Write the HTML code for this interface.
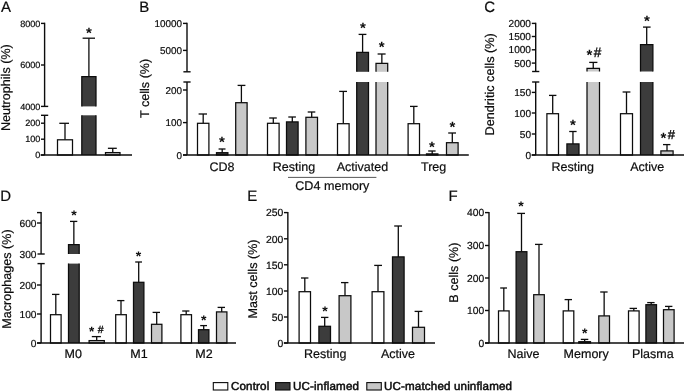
<!DOCTYPE html>
<html lang="en"><head><meta charset="utf-8"><title>Figure</title>
<style>
html,body{margin:0;padding:0;background:#fff;}
svg{display:block;font-family:"Liberation Sans",Arial,Helvetica,sans-serif;text-rendering:geometricPrecision;}
</style></head>
<body>
<svg width="685" height="392" viewBox="0 0 685 392">
<rect width="685" height="392" fill="#fff"/>
<text x="1.10" y="11.80" font-size="15" fill="#0c0c0c" stroke="#0c0c0c" stroke-width="0.2">A</text>
<line x1="44.60" y1="22.70" x2="44.60" y2="106.40" stroke="#0c0c0c" stroke-width="1.4"/>
<line x1="44.60" y1="115.30" x2="44.60" y2="155.00" stroke="#0c0c0c" stroke-width="1.4"/>
<line x1="41.00" y1="23.40" x2="44.60" y2="23.40" stroke="#0c0c0c" stroke-width="1.4"/>
<text x="40.40" y="26.66" font-size="9.1" text-anchor="end" fill="#0c0c0c" stroke="#0c0c0c" stroke-width="0.2">8000</text>
<line x1="41.00" y1="65.00" x2="44.60" y2="65.00" stroke="#0c0c0c" stroke-width="1.4"/>
<text x="40.40" y="68.26" font-size="9.1" text-anchor="end" fill="#0c0c0c" stroke="#0c0c0c" stroke-width="0.2">6000</text>
<line x1="41.00" y1="123.20" x2="44.60" y2="123.20" stroke="#0c0c0c" stroke-width="1.4"/>
<text x="40.40" y="126.46" font-size="9.1" text-anchor="end" fill="#0c0c0c" stroke="#0c0c0c" stroke-width="0.2">200</text>
<line x1="41.00" y1="139.20" x2="44.60" y2="139.20" stroke="#0c0c0c" stroke-width="1.4"/>
<text x="40.40" y="142.46" font-size="9.1" text-anchor="end" fill="#0c0c0c" stroke="#0c0c0c" stroke-width="0.2">100</text>
<line x1="41.00" y1="155.00" x2="44.60" y2="155.00" stroke="#0c0c0c" stroke-width="1.4"/>
<text x="40.40" y="158.26" font-size="9.1" text-anchor="end" fill="#0c0c0c" stroke="#0c0c0c" stroke-width="0.2">0</text>
<text x="40.40" y="109.66" font-size="9.1" text-anchor="end" fill="#0c0c0c" stroke="#0c0c0c" stroke-width="0.2">4000</text>
<line x1="41.00" y1="106.40" x2="48.20" y2="106.40" stroke="#0c0c0c" stroke-width="1.4"/>
<line x1="41.00" y1="115.30" x2="48.20" y2="115.30" stroke="#0c0c0c" stroke-width="1.4"/>
<line x1="65.00" y1="123.30" x2="65.00" y2="139.80" stroke="#0c0c0c" stroke-width="1.3"/>
<line x1="59.30" y1="123.30" x2="69.00" y2="123.30" stroke="#0c0c0c" stroke-width="1.3"/>
<rect x="57.50" y="139.80" width="15.00" height="15.20" fill="#ffffff" stroke="#0c0c0c" stroke-width="1.25"/>
<line x1="88.90" y1="38.20" x2="88.90" y2="76.50" stroke="#0c0c0c" stroke-width="1.3"/>
<line x1="82.60" y1="38.20" x2="95.00" y2="38.20" stroke="#0c0c0c" stroke-width="1.3"/>
<rect x="81.80" y="76.50" width="14.20" height="29.90" fill="#3c3c3c"/>
<path d="M81.80 106.40V76.50H96.00V106.40" fill="none" stroke="#0c0c0c" stroke-width="1.25"/>
<rect x="81.80" y="115.30" width="14.20" height="39.70" fill="#3c3c3c"/>
<path d="M81.80 115.30V155.00M96.00 115.30V155.00" fill="none" stroke="#0c0c0c" stroke-width="1.25"/>
<line x1="112.75" y1="148.30" x2="112.75" y2="152.60" stroke="#0c0c0c" stroke-width="1.3"/>
<line x1="107.90" y1="148.30" x2="116.80" y2="148.30" stroke="#0c0c0c" stroke-width="1.3"/>
<rect x="105.50" y="152.60" width="14.50" height="2.40" fill="#c8c8c8" stroke="#0c0c0c" stroke-width="1.25"/>
<line x1="40.60" y1="155.00" x2="132.00" y2="155.00" stroke="#0c0c0c" stroke-width="1.4"/>
<text x="89.00" y="37.58" font-size="15" text-anchor="middle" font-weight="bold" fill="#0c0c0c">*</text>
<text x="10.40" y="87.60" font-size="12.6" text-anchor="middle" transform="rotate(-90 10.40 87.60)" fill="#0c0c0c" stroke="#0c0c0c" stroke-width="0.2">Neutrophils (%)</text>
<text x="139.30" y="11.80" font-size="15" fill="#0c0c0c" stroke="#0c0c0c" stroke-width="0.2">B</text>
<line x1="187.00" y1="22.70" x2="187.00" y2="71.80" stroke="#0c0c0c" stroke-width="1.4"/>
<line x1="187.00" y1="82.00" x2="187.00" y2="155.00" stroke="#0c0c0c" stroke-width="1.4"/>
<line x1="183.00" y1="23.40" x2="187.00" y2="23.40" stroke="#0c0c0c" stroke-width="1.4"/>
<text x="182.00" y="26.94" font-size="9.9" text-anchor="end" fill="#0c0c0c" stroke="#0c0c0c" stroke-width="0.2">10000</text>
<line x1="183.00" y1="50.40" x2="187.00" y2="50.40" stroke="#0c0c0c" stroke-width="1.4"/>
<text x="182.00" y="53.94" font-size="9.9" text-anchor="end" fill="#0c0c0c" stroke="#0c0c0c" stroke-width="0.2">5000</text>
<line x1="183.00" y1="90.00" x2="187.00" y2="90.00" stroke="#0c0c0c" stroke-width="1.4"/>
<text x="182.00" y="93.54" font-size="9.9" text-anchor="end" fill="#0c0c0c" stroke="#0c0c0c" stroke-width="0.2">200</text>
<line x1="183.00" y1="122.60" x2="187.00" y2="122.60" stroke="#0c0c0c" stroke-width="1.4"/>
<text x="182.00" y="126.14" font-size="9.9" text-anchor="end" fill="#0c0c0c" stroke="#0c0c0c" stroke-width="0.2">100</text>
<line x1="183.00" y1="155.00" x2="187.00" y2="155.00" stroke="#0c0c0c" stroke-width="1.4"/>
<text x="182.00" y="158.54" font-size="9.9" text-anchor="end" fill="#0c0c0c" stroke="#0c0c0c" stroke-width="0.2">0</text>
<line x1="183.40" y1="71.80" x2="190.60" y2="71.80" stroke="#0c0c0c" stroke-width="1.4"/>
<line x1="183.40" y1="82.00" x2="190.60" y2="82.00" stroke="#0c0c0c" stroke-width="1.4"/>
<line x1="203.20" y1="114.00" x2="203.20" y2="123.30" stroke="#0c0c0c" stroke-width="1.3"/>
<line x1="198.60" y1="114.00" x2="207.00" y2="114.00" stroke="#0c0c0c" stroke-width="1.3"/>
<rect x="197.50" y="123.30" width="11.40" height="31.70" fill="#ffffff" stroke="#0c0c0c" stroke-width="1.25"/>
<line x1="222.20" y1="149.00" x2="222.20" y2="152.70" stroke="#0c0c0c" stroke-width="1.3"/>
<line x1="218.60" y1="149.00" x2="225.50" y2="149.00" stroke="#0c0c0c" stroke-width="1.3"/>
<rect x="216.50" y="152.70" width="11.40" height="2.30" fill="#3c3c3c" stroke="#0c0c0c" stroke-width="1.25"/>
<line x1="241.40" y1="85.40" x2="241.40" y2="102.70" stroke="#0c0c0c" stroke-width="1.3"/>
<line x1="237.60" y1="85.40" x2="245.40" y2="85.40" stroke="#0c0c0c" stroke-width="1.3"/>
<rect x="235.70" y="102.70" width="11.40" height="52.30" fill="#c8c8c8" stroke="#0c0c0c" stroke-width="1.25"/>
<line x1="273.30" y1="118.00" x2="273.30" y2="123.30" stroke="#0c0c0c" stroke-width="1.3"/>
<line x1="269.20" y1="118.00" x2="276.80" y2="118.00" stroke="#0c0c0c" stroke-width="1.3"/>
<rect x="267.50" y="123.30" width="11.60" height="31.70" fill="#ffffff" stroke="#0c0c0c" stroke-width="1.25"/>
<line x1="292.30" y1="117.00" x2="292.30" y2="121.90" stroke="#0c0c0c" stroke-width="1.3"/>
<line x1="288.30" y1="117.00" x2="295.90" y2="117.00" stroke="#0c0c0c" stroke-width="1.3"/>
<rect x="286.50" y="121.90" width="11.60" height="33.10" fill="#3c3c3c" stroke="#0c0c0c" stroke-width="1.25"/>
<line x1="311.70" y1="112.00" x2="311.70" y2="117.30" stroke="#0c0c0c" stroke-width="1.3"/>
<line x1="307.70" y1="112.00" x2="315.30" y2="112.00" stroke="#0c0c0c" stroke-width="1.3"/>
<rect x="305.90" y="117.30" width="11.60" height="37.70" fill="#c8c8c8" stroke="#0c0c0c" stroke-width="1.25"/>
<line x1="343.30" y1="91.40" x2="343.30" y2="123.70" stroke="#0c0c0c" stroke-width="1.3"/>
<line x1="339.20" y1="91.40" x2="347.00" y2="91.40" stroke="#0c0c0c" stroke-width="1.3"/>
<rect x="337.50" y="123.70" width="11.60" height="31.30" fill="#ffffff" stroke="#0c0c0c" stroke-width="1.25"/>
<line x1="362.60" y1="34.40" x2="362.60" y2="52.30" stroke="#0c0c0c" stroke-width="1.3"/>
<line x1="358.60" y1="34.40" x2="366.40" y2="34.40" stroke="#0c0c0c" stroke-width="1.3"/>
<rect x="356.70" y="52.30" width="11.80" height="19.50" fill="#3c3c3c"/>
<path d="M356.70 71.80V52.30H368.50V71.80" fill="none" stroke="#0c0c0c" stroke-width="1.25"/>
<rect x="356.70" y="82.00" width="11.80" height="73.00" fill="#3c3c3c"/>
<path d="M356.70 82.00V155.00M368.50 82.00V155.00" fill="none" stroke="#0c0c0c" stroke-width="1.25"/>
<line x1="381.85" y1="54.00" x2="381.85" y2="63.30" stroke="#0c0c0c" stroke-width="1.3"/>
<line x1="377.60" y1="54.00" x2="385.60" y2="54.00" stroke="#0c0c0c" stroke-width="1.3"/>
<rect x="376.00" y="63.30" width="11.70" height="8.50" fill="#c8c8c8"/>
<path d="M376.00 71.80V63.30H387.70V71.80" fill="none" stroke="#0c0c0c" stroke-width="1.25"/>
<rect x="376.00" y="82.00" width="11.70" height="73.00" fill="#c8c8c8"/>
<path d="M376.00 82.00V155.00M387.70 82.00V155.00" fill="none" stroke="#0c0c0c" stroke-width="1.25"/>
<line x1="413.80" y1="106.40" x2="413.80" y2="123.70" stroke="#0c0c0c" stroke-width="1.3"/>
<line x1="410.00" y1="106.40" x2="417.60" y2="106.40" stroke="#0c0c0c" stroke-width="1.3"/>
<rect x="408.10" y="123.70" width="11.40" height="31.30" fill="#ffffff" stroke="#0c0c0c" stroke-width="1.25"/>
<line x1="432.20" y1="151.00" x2="432.20" y2="153.90" stroke="#0c0c0c" stroke-width="1.3"/>
<line x1="428.20" y1="151.00" x2="435.60" y2="151.00" stroke="#0c0c0c" stroke-width="1.3"/>
<rect x="426.50" y="153.90" width="11.40" height="1.10" fill="#3c3c3c" stroke="#0c0c0c" stroke-width="1.25"/>
<line x1="452.30" y1="133.00" x2="452.30" y2="142.70" stroke="#0c0c0c" stroke-width="1.3"/>
<line x1="448.20" y1="133.00" x2="456.00" y2="133.00" stroke="#0c0c0c" stroke-width="1.3"/>
<rect x="446.50" y="142.70" width="11.60" height="12.30" fill="#c8c8c8" stroke="#0c0c0c" stroke-width="1.25"/>
<line x1="183.00" y1="155.00" x2="468.80" y2="155.00" stroke="#0c0c0c" stroke-width="1.4"/>
<text x="222.00" y="147.18" font-size="15" text-anchor="middle" font-weight="bold" fill="#0c0c0c">*</text>
<text x="362.90" y="32.67" font-size="15" text-anchor="middle" font-weight="bold" fill="#0c0c0c">*</text>
<text x="381.70" y="52.17" font-size="15" text-anchor="middle" font-weight="bold" fill="#0c0c0c">*</text>
<text x="431.80" y="152.28" font-size="15" text-anchor="middle" font-weight="bold" fill="#0c0c0c">*</text>
<text x="452.50" y="131.57" font-size="15" text-anchor="middle" font-weight="bold" fill="#0c0c0c">*</text>
<text x="222.00" y="171.00" font-size="12.5" text-anchor="middle" fill="#0c0c0c" stroke="#0c0c0c" stroke-width="0.2">CD8</text>
<text x="294.00" y="171.00" font-size="12.5" text-anchor="middle" fill="#0c0c0c" stroke="#0c0c0c" stroke-width="0.2">Resting</text>
<text x="362.50" y="171.00" font-size="12.5" text-anchor="middle" fill="#0c0c0c" stroke="#0c0c0c" stroke-width="0.2">Activated</text>
<text x="433.60" y="171.00" font-size="12.5" text-anchor="middle" fill="#0c0c0c" stroke="#0c0c0c" stroke-width="0.2">Treg</text>
<line x1="288.00" y1="177.40" x2="376.40" y2="177.40" stroke="#444" stroke-width="0.9"/>
<text x="332.30" y="190.00" font-size="12.6" text-anchor="middle" fill="#0c0c0c" stroke="#0c0c0c" stroke-width="0.2">CD4 memory</text>
<text x="149.50" y="88.40" font-size="12.6" text-anchor="middle" transform="rotate(-90 149.50 88.40)" fill="#0c0c0c" stroke="#0c0c0c" stroke-width="0.2">T cells (%)</text>
<text x="484.30" y="11.80" font-size="15" fill="#0c0c0c" stroke="#0c0c0c" stroke-width="0.2">C</text>
<line x1="535.70" y1="22.70" x2="535.70" y2="71.50" stroke="#0c0c0c" stroke-width="1.4"/>
<line x1="535.70" y1="82.00" x2="535.70" y2="155.00" stroke="#0c0c0c" stroke-width="1.4"/>
<line x1="531.80" y1="23.40" x2="535.70" y2="23.40" stroke="#0c0c0c" stroke-width="1.4"/>
<text x="531.00" y="27.02" font-size="10.1" text-anchor="end" fill="#0c0c0c" stroke="#0c0c0c" stroke-width="0.2">2000</text>
<line x1="531.80" y1="36.50" x2="535.70" y2="36.50" stroke="#0c0c0c" stroke-width="1.4"/>
<text x="531.00" y="40.12" font-size="10.1" text-anchor="end" fill="#0c0c0c" stroke="#0c0c0c" stroke-width="0.2">1500</text>
<line x1="531.80" y1="49.80" x2="535.70" y2="49.80" stroke="#0c0c0c" stroke-width="1.4"/>
<text x="531.00" y="53.42" font-size="10.1" text-anchor="end" fill="#0c0c0c" stroke="#0c0c0c" stroke-width="0.2">1000</text>
<line x1="531.80" y1="63.10" x2="535.70" y2="63.10" stroke="#0c0c0c" stroke-width="1.4"/>
<text x="531.00" y="66.72" font-size="10.1" text-anchor="end" fill="#0c0c0c" stroke="#0c0c0c" stroke-width="0.2">500</text>
<line x1="531.80" y1="92.40" x2="535.70" y2="92.40" stroke="#0c0c0c" stroke-width="1.4"/>
<text x="531.00" y="96.02" font-size="10.1" text-anchor="end" fill="#0c0c0c" stroke="#0c0c0c" stroke-width="0.2">150</text>
<line x1="531.80" y1="113.00" x2="535.70" y2="113.00" stroke="#0c0c0c" stroke-width="1.4"/>
<text x="531.00" y="116.62" font-size="10.1" text-anchor="end" fill="#0c0c0c" stroke="#0c0c0c" stroke-width="0.2">100</text>
<line x1="531.80" y1="134.00" x2="535.70" y2="134.00" stroke="#0c0c0c" stroke-width="1.4"/>
<text x="531.00" y="137.62" font-size="10.1" text-anchor="end" fill="#0c0c0c" stroke="#0c0c0c" stroke-width="0.2">50</text>
<line x1="531.80" y1="155.00" x2="535.70" y2="155.00" stroke="#0c0c0c" stroke-width="1.4"/>
<text x="531.00" y="158.62" font-size="10.1" text-anchor="end" fill="#0c0c0c" stroke="#0c0c0c" stroke-width="0.2">0</text>
<line x1="532.10" y1="71.50" x2="539.30" y2="71.50" stroke="#0c0c0c" stroke-width="1.4"/>
<line x1="532.10" y1="82.00" x2="539.30" y2="82.00" stroke="#0c0c0c" stroke-width="1.4"/>
<line x1="552.70" y1="95.40" x2="552.70" y2="113.70" stroke="#0c0c0c" stroke-width="1.3"/>
<line x1="549.00" y1="95.40" x2="556.40" y2="95.40" stroke="#0c0c0c" stroke-width="1.3"/>
<rect x="546.90" y="113.70" width="11.60" height="41.30" fill="#ffffff" stroke="#0c0c0c" stroke-width="1.25"/>
<line x1="572.95" y1="131.50" x2="572.95" y2="143.90" stroke="#0c0c0c" stroke-width="1.3"/>
<line x1="569.20" y1="131.50" x2="576.60" y2="131.50" stroke="#0c0c0c" stroke-width="1.3"/>
<rect x="566.90" y="143.90" width="12.10" height="11.10" fill="#3c3c3c" stroke="#0c0c0c" stroke-width="1.25"/>
<line x1="593.25" y1="62.40" x2="593.25" y2="68.30" stroke="#0c0c0c" stroke-width="1.3"/>
<line x1="589.20" y1="62.40" x2="597.40" y2="62.40" stroke="#0c0c0c" stroke-width="1.3"/>
<rect x="587.00" y="68.30" width="12.50" height="3.20" fill="#c8c8c8"/>
<path d="M587.00 71.50V68.30H599.50V71.50" fill="none" stroke="#0c0c0c" stroke-width="1.25"/>
<rect x="587.00" y="82.00" width="12.50" height="73.00" fill="#c8c8c8"/>
<path d="M587.00 82.00V155.00M599.50 82.00V155.00" fill="none" stroke="#0c0c0c" stroke-width="1.25"/>
<line x1="626.50" y1="92.00" x2="626.50" y2="113.70" stroke="#0c0c0c" stroke-width="1.3"/>
<line x1="622.60" y1="92.00" x2="630.40" y2="92.00" stroke="#0c0c0c" stroke-width="1.3"/>
<rect x="620.50" y="113.70" width="12.00" height="41.30" fill="#ffffff" stroke="#0c0c0c" stroke-width="1.25"/>
<line x1="646.70" y1="27.10" x2="646.70" y2="44.60" stroke="#0c0c0c" stroke-width="1.3"/>
<line x1="643.00" y1="27.10" x2="650.60" y2="27.10" stroke="#0c0c0c" stroke-width="1.3"/>
<rect x="640.50" y="44.60" width="12.40" height="26.90" fill="#3c3c3c"/>
<path d="M640.50 71.50V44.60H652.90V71.50" fill="none" stroke="#0c0c0c" stroke-width="1.25"/>
<rect x="640.50" y="82.00" width="12.40" height="73.00" fill="#3c3c3c"/>
<path d="M640.50 82.00V155.00M652.90 82.00V155.00" fill="none" stroke="#0c0c0c" stroke-width="1.25"/>
<line x1="667.00" y1="144.60" x2="667.00" y2="150.90" stroke="#0c0c0c" stroke-width="1.3"/>
<line x1="663.00" y1="144.60" x2="670.40" y2="144.60" stroke="#0c0c0c" stroke-width="1.3"/>
<rect x="660.90" y="150.90" width="12.20" height="4.10" fill="#c8c8c8" stroke="#0c0c0c" stroke-width="1.25"/>
<line x1="531.70" y1="155.00" x2="684.00" y2="155.00" stroke="#0c0c0c" stroke-width="1.4"/>
<text x="573.00" y="130.18" font-size="15" text-anchor="middle" font-weight="bold" fill="#0c0c0c">*</text>
<text x="647.00" y="25.57" font-size="15" text-anchor="middle" font-weight="bold" fill="#0c0c0c">*</text>
<text x="589.50" y="60.47" font-size="15" text-anchor="middle" font-weight="bold" fill="#0c0c0c">*</text>
<text x="597.50" y="56.73" font-size="13.6" text-anchor="middle" fill="#0c0c0c" stroke="#0c0c0c" stroke-width="0.35">#</text>
<text x="663.40" y="142.58" font-size="15" text-anchor="middle" font-weight="bold" fill="#0c0c0c">*</text>
<text x="671.40" y="138.91" font-size="13" text-anchor="middle" fill="#0c0c0c" stroke="#0c0c0c" stroke-width="0.35">#</text>
<text x="572.80" y="171.00" font-size="12.5" text-anchor="middle" fill="#0c0c0c" stroke="#0c0c0c" stroke-width="0.2">Resting</text>
<text x="647.20" y="171.00" font-size="12.5" text-anchor="middle" fill="#0c0c0c" stroke="#0c0c0c" stroke-width="0.2">Active</text>
<text x="494.30" y="84.35" font-size="12.7" text-anchor="middle" transform="rotate(-90 494.30 84.35)" fill="#0c0c0c" stroke="#0c0c0c" stroke-width="0.2">Dendritic cells (%)</text>
<text x="0.30" y="201.00" font-size="15" fill="#0c0c0c" stroke="#0c0c0c" stroke-width="0.2">D</text>
<line x1="41.10" y1="211.90" x2="41.10" y2="254.00" stroke="#0c0c0c" stroke-width="1.4"/>
<line x1="41.10" y1="263.60" x2="41.10" y2="343.00" stroke="#0c0c0c" stroke-width="1.4"/>
<line x1="37.00" y1="212.60" x2="41.10" y2="212.60" stroke="#0c0c0c" stroke-width="1.4"/>
<line x1="37.00" y1="223.00" x2="41.10" y2="223.00" stroke="#0c0c0c" stroke-width="1.4"/>
<text x="36.50" y="226.65" font-size="10.2" text-anchor="end" fill="#0c0c0c" stroke="#0c0c0c" stroke-width="0.2">600</text>
<line x1="37.00" y1="285.00" x2="41.10" y2="285.00" stroke="#0c0c0c" stroke-width="1.4"/>
<text x="36.50" y="288.65" font-size="10.2" text-anchor="end" fill="#0c0c0c" stroke="#0c0c0c" stroke-width="0.2">200</text>
<line x1="37.00" y1="314.00" x2="41.10" y2="314.00" stroke="#0c0c0c" stroke-width="1.4"/>
<text x="36.50" y="317.65" font-size="10.2" text-anchor="end" fill="#0c0c0c" stroke="#0c0c0c" stroke-width="0.2">100</text>
<line x1="37.00" y1="343.00" x2="41.10" y2="343.00" stroke="#0c0c0c" stroke-width="1.4"/>
<text x="36.50" y="346.65" font-size="10.2" text-anchor="end" fill="#0c0c0c" stroke="#0c0c0c" stroke-width="0.2">0</text>
<text x="36.50" y="257.65" font-size="10.2" text-anchor="end" fill="#0c0c0c" stroke="#0c0c0c" stroke-width="0.2">300</text>
<line x1="37.50" y1="254.00" x2="44.70" y2="254.00" stroke="#0c0c0c" stroke-width="1.4"/>
<line x1="37.50" y1="263.60" x2="44.70" y2="263.60" stroke="#0c0c0c" stroke-width="1.4"/>
<line x1="55.80" y1="294.40" x2="55.80" y2="314.70" stroke="#0c0c0c" stroke-width="1.3"/>
<line x1="52.00" y1="294.40" x2="59.40" y2="294.40" stroke="#0c0c0c" stroke-width="1.3"/>
<rect x="50.50" y="314.70" width="10.60" height="28.30" fill="#ffffff" stroke="#0c0c0c" stroke-width="1.25"/>
<line x1="73.85" y1="221.40" x2="73.85" y2="244.70" stroke="#0c0c0c" stroke-width="1.3"/>
<line x1="70.00" y1="221.40" x2="77.30" y2="221.40" stroke="#0c0c0c" stroke-width="1.3"/>
<rect x="68.50" y="244.70" width="10.70" height="9.30" fill="#3c3c3c"/>
<path d="M68.50 254.00V244.70H79.20V254.00" fill="none" stroke="#0c0c0c" stroke-width="1.25"/>
<rect x="68.50" y="263.60" width="10.70" height="79.40" fill="#3c3c3c"/>
<path d="M68.50 263.60V343.00M79.20 263.60V343.00" fill="none" stroke="#0c0c0c" stroke-width="1.25"/>
<line x1="96.70" y1="336.60" x2="96.70" y2="340.60" stroke="#0c0c0c" stroke-width="1.3"/>
<line x1="91.80" y1="336.60" x2="100.90" y2="336.60" stroke="#0c0c0c" stroke-width="1.3"/>
<rect x="89.10" y="340.60" width="15.20" height="2.40" fill="#c8c8c8" stroke="#0c0c0c" stroke-width="1.25"/>
<line x1="121.00" y1="300.60" x2="121.00" y2="314.70" stroke="#0c0c0c" stroke-width="1.3"/>
<line x1="117.20" y1="300.60" x2="124.40" y2="300.60" stroke="#0c0c0c" stroke-width="1.3"/>
<rect x="115.70" y="314.70" width="10.60" height="28.30" fill="#ffffff" stroke="#0c0c0c" stroke-width="1.25"/>
<line x1="138.70" y1="262.00" x2="138.70" y2="282.30" stroke="#0c0c0c" stroke-width="1.3"/>
<line x1="135.20" y1="262.00" x2="142.00" y2="262.00" stroke="#0c0c0c" stroke-width="1.3"/>
<rect x="133.50" y="282.30" width="10.40" height="60.70" fill="#3c3c3c" stroke="#0c0c0c" stroke-width="1.25"/>
<line x1="156.70" y1="312.40" x2="156.70" y2="324.30" stroke="#0c0c0c" stroke-width="1.3"/>
<line x1="152.60" y1="312.40" x2="160.00" y2="312.40" stroke="#0c0c0c" stroke-width="1.3"/>
<rect x="151.50" y="324.30" width="10.40" height="18.70" fill="#c8c8c8" stroke="#0c0c0c" stroke-width="1.25"/>
<line x1="186.20" y1="311.00" x2="186.20" y2="314.70" stroke="#0c0c0c" stroke-width="1.3"/>
<line x1="182.20" y1="311.00" x2="189.40" y2="311.00" stroke="#0c0c0c" stroke-width="1.3"/>
<rect x="180.90" y="314.70" width="10.60" height="28.30" fill="#ffffff" stroke="#0c0c0c" stroke-width="1.25"/>
<line x1="203.70" y1="325.60" x2="203.70" y2="329.70" stroke="#0c0c0c" stroke-width="1.3"/>
<line x1="200.20" y1="325.60" x2="207.00" y2="325.60" stroke="#0c0c0c" stroke-width="1.3"/>
<rect x="198.50" y="329.70" width="10.40" height="13.30" fill="#3c3c3c" stroke="#0c0c0c" stroke-width="1.25"/>
<line x1="221.70" y1="307.40" x2="221.70" y2="311.90" stroke="#0c0c0c" stroke-width="1.3"/>
<line x1="217.60" y1="307.40" x2="225.00" y2="307.40" stroke="#0c0c0c" stroke-width="1.3"/>
<rect x="216.50" y="311.90" width="10.40" height="31.10" fill="#c8c8c8" stroke="#0c0c0c" stroke-width="1.25"/>
<line x1="37.10" y1="343.00" x2="236.00" y2="343.00" stroke="#0c0c0c" stroke-width="1.4"/>
<text x="74.00" y="220.25" font-size="14" text-anchor="middle" font-weight="bold" fill="#0c0c0c">*</text>
<text x="138.60" y="261.05" font-size="14" text-anchor="middle" font-weight="bold" fill="#0c0c0c">*</text>
<text x="203.70" y="324.65" font-size="14" text-anchor="middle" font-weight="bold" fill="#0c0c0c">*</text>
<text x="91.70" y="335.69" font-size="13.5" text-anchor="middle" font-weight="bold" fill="#0c0c0c">*</text>
<text x="100.70" y="332.81" font-size="10.5" text-anchor="middle" fill="#0c0c0c" stroke="#0c0c0c" stroke-width="0.35">#</text>
<text x="73.30" y="358.40" font-size="12.5" text-anchor="middle" fill="#0c0c0c" stroke="#0c0c0c" stroke-width="0.2">M0</text>
<text x="139.00" y="358.40" font-size="12.5" text-anchor="middle" fill="#0c0c0c" stroke="#0c0c0c" stroke-width="0.2">M1</text>
<text x="204.00" y="358.40" font-size="12.5" text-anchor="middle" fill="#0c0c0c" stroke="#0c0c0c" stroke-width="0.2">M2</text>
<text x="10.90" y="279.00" font-size="12.6" text-anchor="middle" transform="rotate(-90 10.90 279.00)" fill="#0c0c0c" stroke="#0c0c0c" stroke-width="0.2">Macrophages (%)</text>
<text x="247.20" y="201.00" font-size="15" fill="#0c0c0c" stroke="#0c0c0c" stroke-width="0.2">E</text>
<line x1="287.85" y1="211.90" x2="287.85" y2="343.00" stroke="#0c0c0c" stroke-width="1.4"/>
<line x1="283.95" y1="212.60" x2="287.85" y2="212.60" stroke="#0c0c0c" stroke-width="1.4"/>
<text x="283.30" y="216.32" font-size="10.4" text-anchor="end" fill="#0c0c0c" stroke="#0c0c0c" stroke-width="0.2">250</text>
<line x1="283.95" y1="238.80" x2="287.85" y2="238.80" stroke="#0c0c0c" stroke-width="1.4"/>
<text x="283.30" y="242.52" font-size="10.4" text-anchor="end" fill="#0c0c0c" stroke="#0c0c0c" stroke-width="0.2">200</text>
<line x1="283.95" y1="264.80" x2="287.85" y2="264.80" stroke="#0c0c0c" stroke-width="1.4"/>
<text x="283.30" y="268.52" font-size="10.4" text-anchor="end" fill="#0c0c0c" stroke="#0c0c0c" stroke-width="0.2">150</text>
<line x1="283.95" y1="291.00" x2="287.85" y2="291.00" stroke="#0c0c0c" stroke-width="1.4"/>
<text x="283.30" y="294.72" font-size="10.4" text-anchor="end" fill="#0c0c0c" stroke="#0c0c0c" stroke-width="0.2">100</text>
<line x1="283.95" y1="317.00" x2="287.85" y2="317.00" stroke="#0c0c0c" stroke-width="1.4"/>
<text x="283.30" y="320.72" font-size="10.4" text-anchor="end" fill="#0c0c0c" stroke="#0c0c0c" stroke-width="0.2">50</text>
<line x1="283.95" y1="343.00" x2="287.85" y2="343.00" stroke="#0c0c0c" stroke-width="1.4"/>
<text x="283.30" y="346.72" font-size="10.4" text-anchor="end" fill="#0c0c0c" stroke="#0c0c0c" stroke-width="0.2">0</text>
<line x1="304.80" y1="278.00" x2="304.80" y2="291.70" stroke="#0c0c0c" stroke-width="1.3"/>
<line x1="301.00" y1="278.00" x2="308.40" y2="278.00" stroke="#0c0c0c" stroke-width="1.3"/>
<rect x="299.10" y="291.70" width="11.40" height="51.30" fill="#ffffff" stroke="#0c0c0c" stroke-width="1.25"/>
<line x1="324.70" y1="317.40" x2="324.70" y2="326.30" stroke="#0c0c0c" stroke-width="1.3"/>
<line x1="321.00" y1="317.40" x2="328.40" y2="317.40" stroke="#0c0c0c" stroke-width="1.3"/>
<rect x="318.90" y="326.30" width="11.60" height="16.70" fill="#3c3c3c" stroke="#0c0c0c" stroke-width="1.25"/>
<line x1="345.00" y1="282.60" x2="345.00" y2="295.70" stroke="#0c0c0c" stroke-width="1.3"/>
<line x1="341.00" y1="282.60" x2="348.40" y2="282.60" stroke="#0c0c0c" stroke-width="1.3"/>
<rect x="339.10" y="295.70" width="11.80" height="47.30" fill="#c8c8c8" stroke="#0c0c0c" stroke-width="1.25"/>
<line x1="378.00" y1="265.40" x2="378.00" y2="291.70" stroke="#0c0c0c" stroke-width="1.3"/>
<line x1="374.20" y1="265.40" x2="382.00" y2="265.40" stroke="#0c0c0c" stroke-width="1.3"/>
<rect x="372.10" y="291.70" width="11.80" height="51.30" fill="#ffffff" stroke="#0c0c0c" stroke-width="1.25"/>
<line x1="398.30" y1="226.00" x2="398.30" y2="256.90" stroke="#0c0c0c" stroke-width="1.3"/>
<line x1="394.20" y1="226.00" x2="402.00" y2="226.00" stroke="#0c0c0c" stroke-width="1.3"/>
<rect x="392.50" y="256.90" width="11.60" height="86.10" fill="#3c3c3c" stroke="#0c0c0c" stroke-width="1.25"/>
<line x1="418.50" y1="311.40" x2="418.50" y2="327.30" stroke="#0c0c0c" stroke-width="1.3"/>
<line x1="414.60" y1="311.40" x2="422.40" y2="311.40" stroke="#0c0c0c" stroke-width="1.3"/>
<rect x="412.50" y="327.30" width="12.00" height="15.70" fill="#c8c8c8" stroke="#0c0c0c" stroke-width="1.25"/>
<line x1="283.85" y1="343.00" x2="435.00" y2="343.00" stroke="#0c0c0c" stroke-width="1.4"/>
<text x="325.00" y="315.65" font-size="14" text-anchor="middle" font-weight="bold" fill="#0c0c0c">*</text>
<text x="325.20" y="358.00" font-size="12.5" text-anchor="middle" fill="#0c0c0c" stroke="#0c0c0c" stroke-width="0.2">Resting</text>
<text x="398.00" y="358.00" font-size="12.5" text-anchor="middle" fill="#0c0c0c" stroke="#0c0c0c" stroke-width="0.2">Active</text>
<text x="257.00" y="279.00" font-size="12.6" text-anchor="middle" transform="rotate(-90 257.00 279.00)" fill="#0c0c0c" stroke="#0c0c0c" stroke-width="0.2">Mast cells (%)</text>
<text x="448.40" y="201.00" font-size="15" fill="#0c0c0c" stroke="#0c0c0c" stroke-width="0.2">F</text>
<line x1="489.00" y1="211.90" x2="489.00" y2="343.00" stroke="#0c0c0c" stroke-width="1.4"/>
<line x1="485.00" y1="212.60" x2="489.00" y2="212.60" stroke="#0c0c0c" stroke-width="1.4"/>
<text x="484.30" y="216.29" font-size="10.3" text-anchor="end" fill="#0c0c0c" stroke="#0c0c0c" stroke-width="0.2">400</text>
<line x1="485.00" y1="245.50" x2="489.00" y2="245.50" stroke="#0c0c0c" stroke-width="1.4"/>
<text x="484.30" y="249.19" font-size="10.3" text-anchor="end" fill="#0c0c0c" stroke="#0c0c0c" stroke-width="0.2">300</text>
<line x1="485.00" y1="278.00" x2="489.00" y2="278.00" stroke="#0c0c0c" stroke-width="1.4"/>
<text x="484.30" y="281.69" font-size="10.3" text-anchor="end" fill="#0c0c0c" stroke="#0c0c0c" stroke-width="0.2">200</text>
<line x1="485.00" y1="310.50" x2="489.00" y2="310.50" stroke="#0c0c0c" stroke-width="1.4"/>
<text x="484.30" y="314.19" font-size="10.3" text-anchor="end" fill="#0c0c0c" stroke="#0c0c0c" stroke-width="0.2">100</text>
<line x1="485.00" y1="343.00" x2="489.00" y2="343.00" stroke="#0c0c0c" stroke-width="1.4"/>
<text x="484.30" y="346.69" font-size="10.3" text-anchor="end" fill="#0c0c0c" stroke="#0c0c0c" stroke-width="0.2">0</text>
<line x1="503.80" y1="288.00" x2="503.80" y2="310.90" stroke="#0c0c0c" stroke-width="1.3"/>
<line x1="500.20" y1="288.00" x2="507.00" y2="288.00" stroke="#0c0c0c" stroke-width="1.3"/>
<rect x="498.50" y="310.90" width="10.60" height="32.10" fill="#ffffff" stroke="#0c0c0c" stroke-width="1.25"/>
<line x1="521.50" y1="213.40" x2="521.50" y2="251.70" stroke="#0c0c0c" stroke-width="1.3"/>
<line x1="517.20" y1="213.40" x2="525.00" y2="213.40" stroke="#0c0c0c" stroke-width="1.3"/>
<rect x="516.10" y="251.70" width="10.80" height="91.30" fill="#3c3c3c" stroke="#0c0c0c" stroke-width="1.25"/>
<line x1="539.00" y1="244.40" x2="539.00" y2="294.70" stroke="#0c0c0c" stroke-width="1.3"/>
<line x1="535.00" y1="244.40" x2="542.60" y2="244.40" stroke="#0c0c0c" stroke-width="1.3"/>
<rect x="533.70" y="294.70" width="10.60" height="48.30" fill="#c8c8c8" stroke="#0c0c0c" stroke-width="1.25"/>
<line x1="568.50" y1="299.60" x2="568.50" y2="310.90" stroke="#0c0c0c" stroke-width="1.3"/>
<line x1="564.60" y1="299.60" x2="572.00" y2="299.60" stroke="#0c0c0c" stroke-width="1.3"/>
<rect x="563.20" y="310.90" width="10.60" height="32.10" fill="#ffffff" stroke="#0c0c0c" stroke-width="1.25"/>
<line x1="584.65" y1="339.40" x2="584.65" y2="341.70" stroke="#0c0c0c" stroke-width="1.3"/>
<line x1="580.80" y1="339.40" x2="588.30" y2="339.40" stroke="#0c0c0c" stroke-width="1.3"/>
<rect x="578.80" y="341.70" width="11.70" height="1.30" fill="#3c3c3c" stroke="#0c0c0c" stroke-width="1.25"/>
<line x1="604.15" y1="292.00" x2="604.15" y2="315.90" stroke="#0c0c0c" stroke-width="1.3"/>
<line x1="600.20" y1="292.00" x2="607.60" y2="292.00" stroke="#0c0c0c" stroke-width="1.3"/>
<rect x="598.80" y="315.90" width="10.70" height="27.10" fill="#c8c8c8" stroke="#0c0c0c" stroke-width="1.25"/>
<line x1="633.80" y1="308.40" x2="633.80" y2="310.90" stroke="#0c0c0c" stroke-width="1.3"/>
<line x1="629.60" y1="308.40" x2="637.00" y2="308.40" stroke="#0c0c0c" stroke-width="1.3"/>
<rect x="628.50" y="310.90" width="10.60" height="32.10" fill="#ffffff" stroke="#0c0c0c" stroke-width="1.25"/>
<line x1="651.20" y1="302.60" x2="651.20" y2="304.70" stroke="#0c0c0c" stroke-width="1.3"/>
<line x1="647.20" y1="302.60" x2="654.60" y2="302.60" stroke="#0c0c0c" stroke-width="1.3"/>
<rect x="645.90" y="304.70" width="10.60" height="38.30" fill="#3c3c3c" stroke="#0c0c0c" stroke-width="1.25"/>
<line x1="668.80" y1="306.40" x2="668.80" y2="309.70" stroke="#0c0c0c" stroke-width="1.3"/>
<line x1="665.00" y1="306.40" x2="672.40" y2="306.40" stroke="#0c0c0c" stroke-width="1.3"/>
<rect x="663.50" y="309.70" width="10.60" height="33.30" fill="#c8c8c8" stroke="#0c0c0c" stroke-width="1.25"/>
<line x1="485.00" y1="343.00" x2="684.00" y2="343.00" stroke="#0c0c0c" stroke-width="1.4"/>
<text x="521.00" y="211.05" font-size="14" text-anchor="middle" font-weight="bold" fill="#0c0c0c">*</text>
<text x="584.80" y="337.85" font-size="14" text-anchor="middle" font-weight="bold" fill="#0c0c0c">*</text>
<text x="523.50" y="358.00" font-size="12.5" text-anchor="middle" fill="#0c0c0c" stroke="#0c0c0c" stroke-width="0.2">Naive</text>
<text x="586.20" y="358.00" font-size="12.5" text-anchor="middle" fill="#0c0c0c" stroke="#0c0c0c" stroke-width="0.2">Memory</text>
<text x="652.80" y="358.00" font-size="12.5" text-anchor="middle" fill="#0c0c0c" stroke="#0c0c0c" stroke-width="0.2">Plasma</text>
<text x="458.20" y="272.60" font-size="12.6" text-anchor="middle" transform="rotate(-90 458.20 272.60)" fill="#0c0c0c" stroke="#0c0c0c" stroke-width="0.2">B cells (%)</text>
<rect x="213.3" y="382.6" width="14.50" height="7.4" fill="#ffffff" stroke="#0c0c0c" stroke-width="1.1"/>
<rect x="275.6" y="382.6" width="14.40" height="7.4" fill="#3c3c3c" stroke="#0c0c0c" stroke-width="1.1"/>
<rect x="366.8" y="382.6" width="14.50" height="7.4" fill="#c8c8c8" stroke="#0c0c0c" stroke-width="1.1"/>
<text x="231" y="390" font-size="11.6" letter-spacing="0.15" fill="#0c0c0c" stroke="#0c0c0c" stroke-width="0.5">Control</text>
<text x="293" y="390" font-size="11.6" letter-spacing="0.15" fill="#0c0c0c" stroke="#0c0c0c" stroke-width="0.5">UC-inflamed</text>
<text x="384" y="390" font-size="11.6" letter-spacing="0.15" fill="#0c0c0c" stroke="#0c0c0c" stroke-width="0.5">UC-matched uninflamed</text>
</svg>
</body></html>
